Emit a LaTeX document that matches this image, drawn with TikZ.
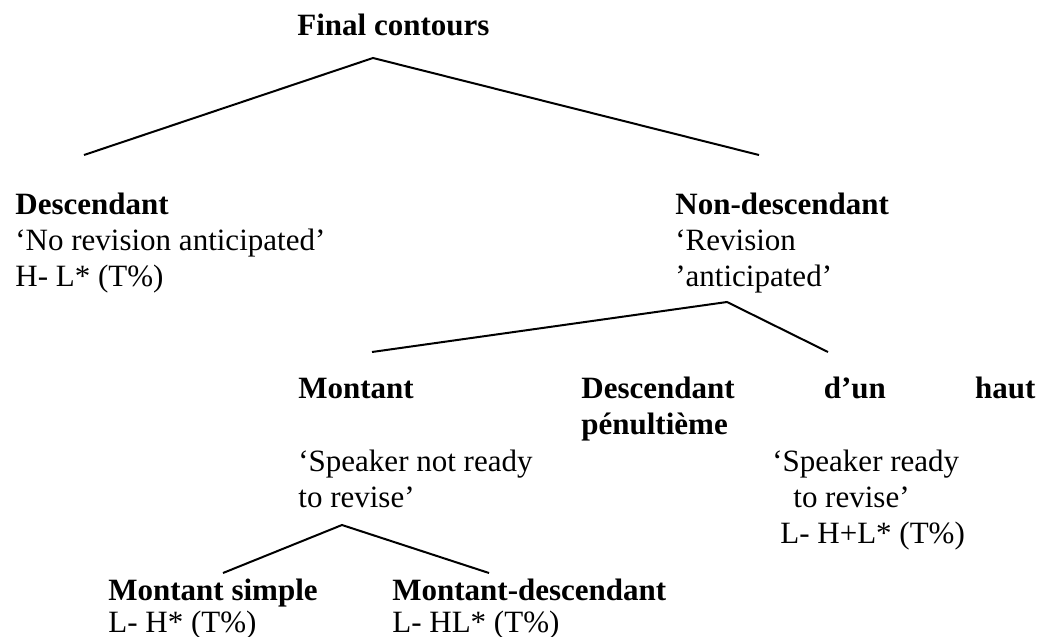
\documentclass[tikz,border=0pt]{standalone}
\usepackage{fontspec}
\setmainfont{Liberation Serif}
\usepackage{tikz}
\usetikzlibrary{positioning}

\begin{document}
\begin{tikzpicture}[x=0.5pt,y=-0.5pt,
  txt/.style={anchor=base west,inner sep=0pt,text width=180pt,align=flush left,font=\fontsize{15.5}{18}\selectfont},
  tight/.style={txt,font=\fontsize{15.5}{16}\selectfont},
  branch/.style={line width=1pt},
]
\useasboundingbox (0,0) rectangle (1039,637);

% labels
\node[txt] (final) at (297,35) {\textbf{Final contours}};
\node[txt] (desc) at (15,214) {\textbf{Descendant}\\‘No revision anticipated’\\H- L* (T\%)};
\node[txt] (nondesc) at (675,214) {\textbf{Non-descendant}\\‘Revision\\’anticipated’};
\node[txt] (mont) at (298,398) {\textbf{Montant}};
\node[txt,text width=227pt,align=justify] (penult) at (581,398)
  {\textbf{Descendant d’un haut\linebreak pénultième}};
\node[txt] (notready) at (298,471) {‘Speaker not ready\\to revise’};
\node[txt] (ready) at (772,471) {‘Speaker ready\\\hspace*{10.5pt}to revise’\\\hspace*{4pt}L- H+L* (T\%)};
\node[tight] (simple) at (108,600) {\textbf{Montant simple}\\L- H* (T\%)};
\node[tight] (montdesc) at (392,600) {\textbf{Montant-descendant}\\L- HL* (T\%)};

% branch points
\coordinate (root) at (373,58);
\coordinate (root-l) at (84,155);
\coordinate (root-r) at (759,155);
\coordinate (nd) at (727,302);
\coordinate (nd-l) at (372,352);
\coordinate (nd-r) at (828,352);
\coordinate (mt) at (342,525);
\coordinate (mt-l) at (223,573);
\coordinate (mt-r) at (489,573);

\draw[branch] (root-l) -- (root) -- (root-r);
\draw[branch] (nd-l) -- (nd) -- (nd-r);
\draw[branch] (mt-l) -- (mt) -- (mt-r);
\end{tikzpicture}
\end{document}
